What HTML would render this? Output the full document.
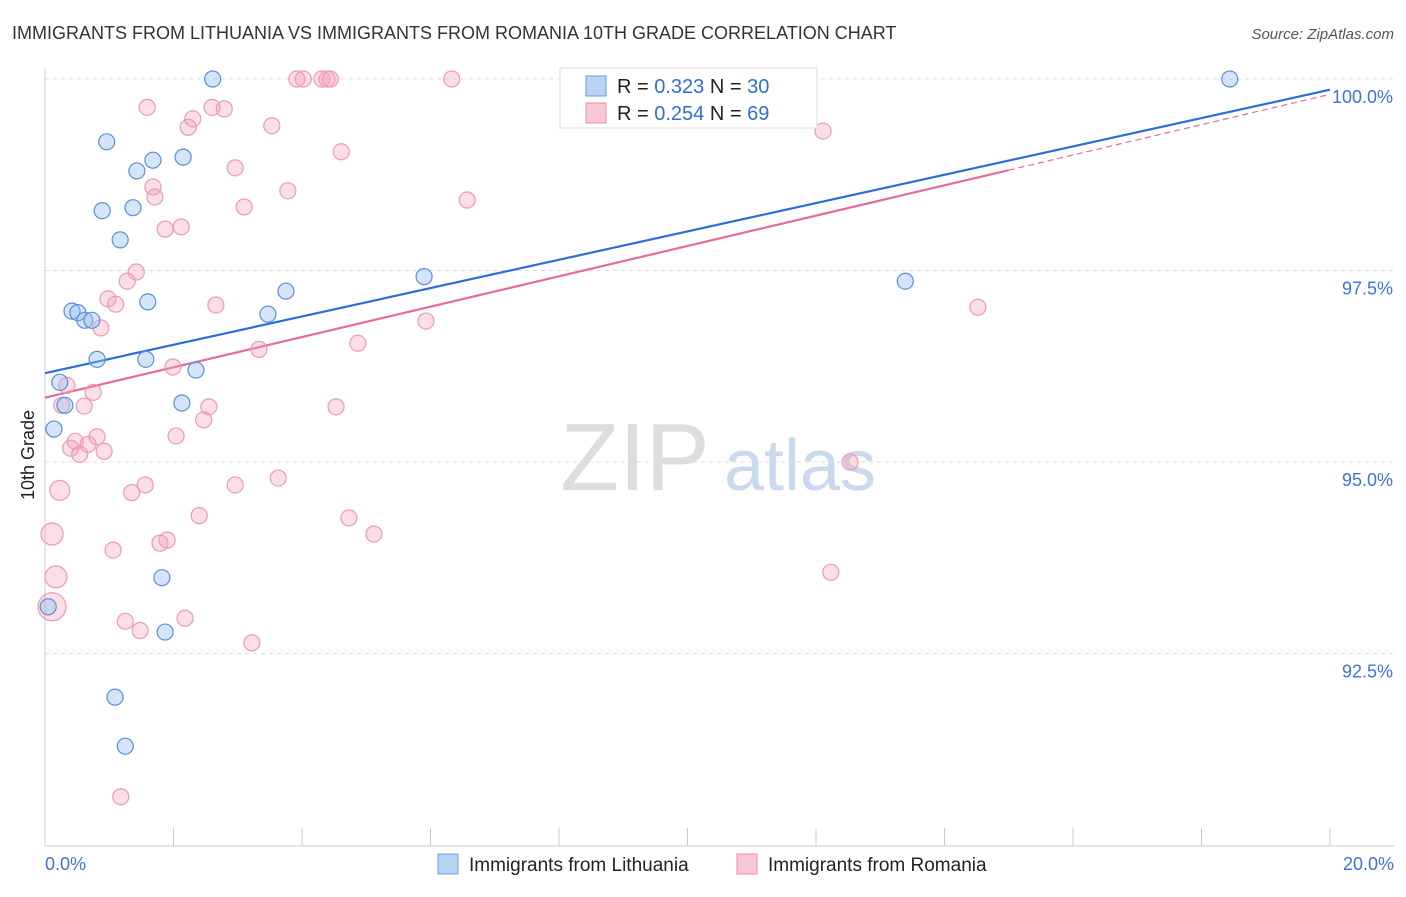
<!DOCTYPE html>
<html><head><meta charset="utf-8"><style>
body{margin:0;background:#fff;font-family:"Liberation Sans",sans-serif}
svg text{font-family:"Liberation Sans",sans-serif}
</style></head><body>
<svg id="c" width="1406" height="892">
<text x="12" y="39" font-size="18" fill="#333">IMMIGRANTS FROM LITHUANIA VS IMMIGRANTS FROM ROMANIA 10TH GRADE CORRELATION CHART</text>
<text x="1394" y="39" font-size="15" fill="#555" font-style="italic" text-anchor="end">Source: ZipAtlas.com</text>
<g>
<text x="635" y="490" font-size="96" fill="#ddd" text-anchor="middle" font-family="Liberation Serif">ZIP</text>
<text x="800" y="490" font-size="72" fill="#c9d9ee" text-anchor="middle">atlas</text>
</g>
<g id="grid"></g><g id="axes"></g><g id="lines"></g><g id="pts"></g>
<text transform="translate(34,455) rotate(-90)" font-size="18" fill="#222" text-anchor="middle">10th Grade</text>
<g>
<rect x="560" y="68" width="257" height="60" fill="#fff" stroke="#ddd"/>
<rect x="586" y="76" width="20" height="20" fill="#b9d3f5" stroke="#6a9be0"/>
<rect x="586" y="103" width="20" height="20" fill="#f9c6d5" stroke="#ec8fab"/>
<text x="617" y="93" font-size="20" fill="#222">R = <tspan fill="#2f6fd6">0.323</tspan>   N = <tspan fill="#2f6fd6">30</tspan></text>
<text x="617" y="120" font-size="20" fill="#222">R = <tspan fill="#2f6fd6">0.254</tspan>   N = <tspan fill="#2f6fd6">69</tspan></text>
</g>
<g>
<rect x="438" y="854" width="20" height="20" fill="#b9d3f5" stroke="#6a9be0"/>
<text x="469" y="871" font-size="19" fill="#222">Immigrants from Lithuania</text>
<rect x="737" y="854" width="20" height="20" fill="#f9c6d5" stroke="#ec8fab"/>
<text x="768" y="871" font-size="19" fill="#222">Immigrants from Romania</text>
</g>
</svg>
<script>
const yTicks=[100,97.5,95,92.5];
const yTickLabels=["100.0%","97.5%","95.0%","92.5%"];
const xTickLabels=["0.0%","20.0%"];
const blueX=[2.61,18.44,0.96,1.68,2.15,1.43,0.89,1.37,1.17,5.90,13.39,3.75,1.60,0.42,0.51,0.62,0.73,3.47,0.81,1.57,2.35,0.23,0.31,2.13,0.14,1.82,1.87,1.09,1.25,0.05];
const blueY=[100,100,99.18,98.94,98.98,98.80,98.28,98.32,97.90,97.42,97.36,97.23,97.09,96.97,96.95,96.85,96.85,96.93,96.34,96.34,96.20,96.04,95.74,95.77,95.43,93.49,92.78,91.93,91.29,93.11];
const pinkX=[1.59,2.60,2.79,2.30,2.23,3.53,3.92,4.02,4.31,4.39,4.44,6.33,9.11,12.11,4.61,2.96,1.68,1.71,3.78,6.57,3.10,2.12,1.87,1.42,1.28,0.98,1.10,2.66,0.87,5.93,14.52,4.87,3.33,1.99,0.34,0.75,0.26,0.61,2.55,4.53,2.47,2.04,0.47,0.81,0.67,0.40,0.54,0.92,12.53,0.23,3.63,2.96,1.56,1.35,2.40,4.73,0.11,5.12,1.90,1.79,1.06,12.23,0.17,0.11,1.25,2.18,1.48,3.22,1.18];
const pinkY=[99.63,99.63,99.61,99.48,99.37,99.39,100,100,100,100,100,100,100,99.32,99.05,98.84,98.59,98.46,98.54,98.42,98.33,98.07,98.04,97.48,97.36,97.13,97.06,97.05,96.75,96.84,97.02,96.55,96.47,96.24,96.00,95.91,95.74,95.73,95.72,95.72,95.55,95.34,95.27,95.33,95.23,95.18,95.10,95.14,95.00,94.63,94.79,94.70,94.70,94.60,94.30,94.27,94.06,94.06,93.98,93.94,93.85,93.56,93.50,93.11,92.92,92.96,92.80,92.64,90.63];
const pinkR=[8,8,8,8,8,8,8,8,8,8,8,8,8,8,8,8,8,8,8,8,8,8,8,8,8,8,8,8,8,8,8,8,8,8,8,8,8,8,8,8,8,8,8,8,8,8,8,8,8,10,8,8,8,8,8,8,11,8,8,8,8,8,11,14,8,8,8,8,8];
const blueTrend=[96.16,99.86];
const pinkTrend=[95.84,99.80];
const NS="http://www.w3.org/2000/svg";
const X=v=>45+v/20*1285, Y=v=>79+(100-v)/2.5*191.5;
function mk(p,t,a){const e=document.createElementNS(NS,t);for(const k in a)e.setAttribute(k,a[k]);document.getElementById(p).appendChild(e);return e;}
yTicks.forEach((t,i)=>{
 const g=mk('grid','line',{x1:45,x2:1394,y1:Y(t),y2:Y(t),stroke:'#ddd','stroke-dasharray':'4,4'});
 
 
 const l=mk('grid','text',{x:1393,y:Y(t)+24,'font-size':18,fill:'#3d74d6','text-anchor':'end'});
 l.textContent=yTickLabels[i];
 
 
});
const ax=mk('axes','line',{x1:45,x2:1394,y1:846,y2:846,stroke:'#ccc'});


const ay=mk('axes','line',{x1:45,x2:45,y1:68,y2:846,stroke:'#ccc'});


for(let i=0;i<=10;i++){const t=mk('axes','line',{x1:X(i*2),x2:X(i*2),y1:828,y2:846,stroke:'#ccc'});
 
 }
[[0,'start',45],[20,'end',1394]].forEach((d,i)=>{const t=mk('axes','text',{x:d[2],y:870,'font-size':18,fill:'#3d74d6','text-anchor':d[1]});t.textContent=xTickLabels[i];
 
 });
pinkX.forEach((x,i)=>{const c=mk('pts','circle',{cx:X(x),cy:Y(pinkY[i]),r:pinkR[i],fill:'rgba(244,160,187,0.35)',stroke:'#ec9ab4','stroke-width':1.2});
 
 });
blueX.forEach((x,i)=>{const c=mk('pts','circle',{cx:X(x),cy:Y(blueY[i]),r:8,fill:'rgba(150,190,240,0.4)',stroke:'#5b8fd6','stroke-width':1.2});
 
 });
const pAt=v=>pinkTrend[0]+(pinkTrend[1]-pinkTrend[0])*v/20;
const bl=mk('lines','line',{x1:X(0),y1:Y(blueTrend[0]),x2:X(20),y2:Y(blueTrend[1]),stroke:'#2a6fd8','stroke-width':2.2});


const pl=mk('lines','line',{x1:X(0),y1:Y(pAt(0)),x2:X(15),y2:Y(pAt(15)),stroke:'#e56c96','stroke-width':2.2});


const pd=mk('lines','line',{x1:X(15),y1:Y(pAt(15)),x2:X(20),y2:Y(pAt(20)),stroke:'#e56c96','stroke-width':1.2,'stroke-dasharray':'6,4'});


</script>
</body></html>
